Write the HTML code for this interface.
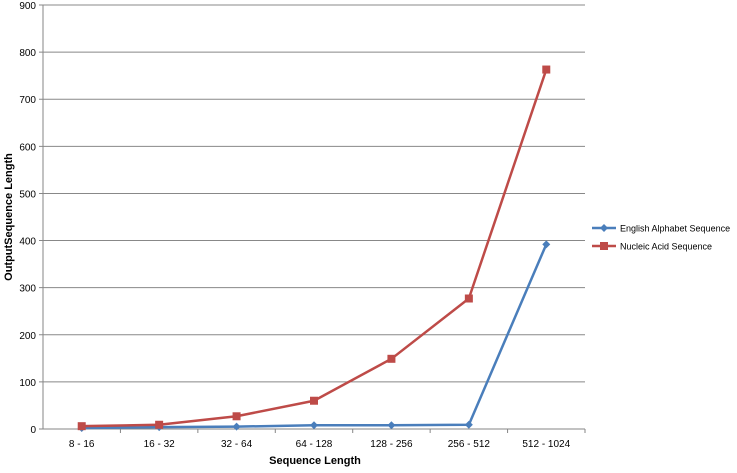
<!DOCTYPE html>
<html><head><meta charset="utf-8"><style>
body{margin:0;background:#fff;font-family:"Liberation Sans",sans-serif}
svg text{font-family:"Liberation Sans",sans-serif}
</style></head><body>
<svg id="c" width="737" height="468" xmlns="http://www.w3.org/2000/svg"></svg>
<script>
const categories=["8 - 16","16 - 32","32 - 64","64 - 128","128 - 256","256 - 512","512 - 1024"];
const englishValues=[2,4,5,8,8,9,392];
const nucleicValues=[6,9,27,60,149,277,763];
const yTicks=[0,100,200,300,400,500,600,700,800,900];
const svg=document.getElementById('c');const NS="http://www.w3.org/2000/svg";
const L=43,R=585,T=5,B=429,YMAX=900;
const band=(R-L)/categories.length;
const x=i=>L+band*(i+0.5);
const y=v=>B-(v/YMAX)*(B-T);
function mk(t,a,p){const e=document.createElementNS(NS,t);for(const k in a)e.setAttribute(k,a[k]);(p||svg).appendChild(e);return e;}
yTicks.forEach(v=>{
 const g=mk('line',{x1:L-4,x2:R,y1:y(v),y2:y(v),stroke:v===0?'#868686':'#888','stroke-width':1});
 
 
 const t=mk('text',{x:L-7,y:y(v)+4,'text-anchor':'end','font-size':10,fill:'#000'});t.textContent=v;
 
 
});
const ax=mk('line',{x1:L,x2:L,y1:T,y2:B,stroke:'#868686'});


categories.forEach((c,i)=>{
 const tk=mk('line',{x1:L+band*(i+1),x2:L+band*(i+1),y1:B,y2:B+4,stroke:'#868686'});
 
 
 const t=mk('text',{x:x(i),y:B+18,'text-anchor':'middle','font-size':10});t.textContent=c;
 
 
});
function series(vals,color,name,marker){
 const p=mk('polyline',{points:vals.map((v,i)=>x(i)+','+y(v)).join(' '),fill:'none',stroke:color,'stroke-width':2.5,'stroke-linejoin':'round'});
 
 
 vals.forEach((v,i)=>{
  let m;
  if(marker==='sq')m=mk('rect',{x:x(i)-4,y:y(v)-4,width:8,height:8,fill:color});
  else m=mk('polygon',{points:`${x(i)},${y(v)-4} ${x(i)+4},${y(v)} ${x(i)},${y(v)+4} ${x(i)-4},${y(v)}`,fill:color});
  
  
 });
}
series(englishValues,'#4a7ebb','english-alphabet','dia');
series(nucleicValues,'#be4b48','nucleic-acid','sq');
const yt=mk('text',{x:0,y:0,transform:'translate(12,217) rotate(-90)','text-anchor':'middle','font-size':11,'font-weight':'bold'});yt.textContent='OutputSequence Length';


const xt=mk('text',{x:315,y:464,'text-anchor':'middle','font-size':11,'font-weight':'bold'});xt.textContent='Sequence Length';


[['English Alphabet Sequence','#4a7ebb','dia',228],['Nucleic Acid Sequence','#be4b48','sq',246]].forEach(([n,c,m,yy])=>{
 const g=mk('g',{});
 
 
 mk('line',{x1:592,x2:616,y1:yy,y2:yy,stroke:c,'stroke-width':2.5},g);
 if(m==='sq')mk('rect',{x:600,y:yy-4,width:8,height:8,fill:c},g);
 else mk('polygon',{points:`604,${yy-4} 608,${yy} 604,${yy+4} 600,${yy}`,fill:c},g);
 const t=mk('text',{x:620,y:yy+3.5,'font-size':9},g);t.textContent=n;
});
</script>
</body></html>
